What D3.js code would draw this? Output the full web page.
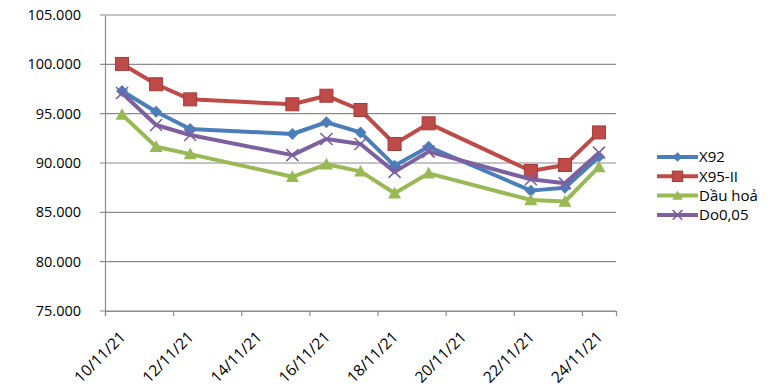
<!DOCTYPE html>
<html><head><meta charset="utf-8">
<script src="https://cdn.jsdelivr.net/npm/d3@7"></script>
<style>body{margin:0;background:#fff}svg{display:block}</style>
</head><body><svg id="c" width="777" height="391"></svg>
<script>
const dates = ["2021-11-10","2021-11-11","2021-11-12","2021-11-15","2021-11-16","2021-11-17","2021-11-18","2021-11-19","2021-11-22","2021-11-23","2021-11-24"];
const seriesNames = ["X92","X95-II","Dầu hoả","Do0,05"];
const x92 = [97300,95200,93450,92940,94130,93100,89730,91650,87200,87500,90640];
const x95 = [100040,97980,96450,95950,96820,95370,91930,94020,89190,89800,93100];
const dauHoa = [94900,91650,90900,88600,89870,89150,86930,88950,86250,86100,89600];
const do005 = [97100,93850,92840,90800,92430,91930,89100,91150,88350,87940,91050];
const yTicks = [75000,80000,85000,90000,95000,100000,105000];
const xTickLabels = ["10/11/21","12/11/21","14/11/21","16/11/21","18/11/21","20/11/21","22/11/21","24/11/21"];

const colors = ["#4a7ebb","#be4b48","#98b954","#7d60a0"];
const markers = ["diamond","square","triangle","x"];
const values = [x92,x95,dauHoa,do005];
const font = "'Open Sans', sans-serif";

const svg = d3.select("#c");
const parse = d3.timeParse("%Y-%m-%d");
const fmtD = d3.timeFormat("%d/%m/%y");
const L = 105, R = 616, T = 15, B = 311;
const x0 = parse("2021-11-10"), x1 = parse("2021-11-25");
const x = d3.scaleTime().domain([x0, x1]).range([L, R]);
const y = d3.scaleLinear().domain([75000,105000]).range([B, T]);
const halfDay = (x(parse("2021-11-11")) - x(x0)) / 2;
const px = d => x(parse(d)) + halfDay;

// gridlines
svg.append("g").selectAll("line").data(yTicks).join("line")
  .attr("x1", L-5).attr("x2", R).attr("y1", d=>y(d)).attr("y2", d=>y(d))
  .attr("stroke", "#8c8c8c").attr("stroke-width", 1.2);

// y axis
const ya = svg.append("g").attr("transform", `translate(${L},0)`)
  .call(d3.axisLeft(y).tickValues(yTicks).tickSize(0).tickPadding(24)
    .tickFormat(v => (v/1000).toFixed(3)));
ya.select(".domain").attr("stroke", "#8c8c8c").attr("stroke-width", 1.2);
ya.selectAll("text").attr("font-family", font).attr("font-size", 14.5).attr("fill", "#000");

// x axis
const xTickDates = xTickLabels.map(s => d3.timeParse("%d/%m/%y")(s));
const xa = svg.append("g").attr("transform", `translate(0,${B})`)
  .call(d3.axisBottom(x).tickValues(xTickDates).tickSize(5).tickFormat(fmtD));
xa.select(".domain").attr("stroke", "#8c8c8c").attr("stroke-width", 1.2);
xa.selectAll(".tick line").attr("stroke", "#8c8c8c").attr("stroke-width", 1.2);
xa.selectAll("text").attr("font-family", font).attr("font-size", 15.5).attr("fill", "#000")
  .attr("text-anchor", "end").attr("dy", 0).attr("y", 0)
  .attr("transform", "translate(21,27) rotate(-45)");

// markers
function drawMarker(g, type, color, cx, cy, s) {
  if (type === "diamond") {
    g.append("path").attr("d", `M${cx},${cy-s}L${cx+s},${cy}L${cx},${cy+s}L${cx-s},${cy}Z`).attr("fill", color);
  } else if (type === "square") {
    g.append("rect").attr("x", cx-s).attr("y", cy-s).attr("width", 2*s).attr("height", 2*s)
      .attr("fill", color).attr("stroke", "#a33b38").attr("stroke-width", 1);
  } else if (type === "triangle") {
    g.append("path").attr("d", `M${cx},${cy-s}L${cx+s},${cy+s*0.8}L${cx-s},${cy+s*0.8}Z`).attr("fill", color);
  } else {
    g.append("path").attr("d", `M${cx-s},${cy-s}L${cx+s},${cy+s}M${cx-s},${cy+s}L${cx+s},${cy-s}`)
      .attr("stroke", color).attr("stroke-width", 1.6).attr("fill", "none");
  }
}
const sizes = [6, 6.5, 6.5, 6];

const line = d3.line().x((d,i)=>px(dates[i])).y(d=>y(d));
values.forEach((vals, k) => {
  const g = svg.append("g");
  g.append("path").datum(vals).attr("d", line).attr("fill","none")
    .attr("stroke", colors[k]).attr("stroke-width", 4).attr("stroke-linejoin","round");
  vals.forEach((v,i) => drawMarker(g, markers[k], colors[k], px(dates[i]), y(v), sizes[k]));
});

// legend
const lg = svg.append("g");
seriesNames.forEach((n, k) => {
  const yy = 157 + k*19.3;
  lg.append("line").attr("x1", 657).attr("x2", 698).attr("y1", yy).attr("y2", yy)
    .attr("stroke", colors[k]).attr("stroke-width", 4);
  drawMarker(lg, markers[k], colors[k], 677.5, yy, sizes[k]*0.8);
  lg.append("text").attr("x", 699).attr("y", yy).attr("dy", "0.35em")
    .attr("font-family", font).attr("font-size", 15).attr("fill", "#000").text(n);
});
</script></body></html>
